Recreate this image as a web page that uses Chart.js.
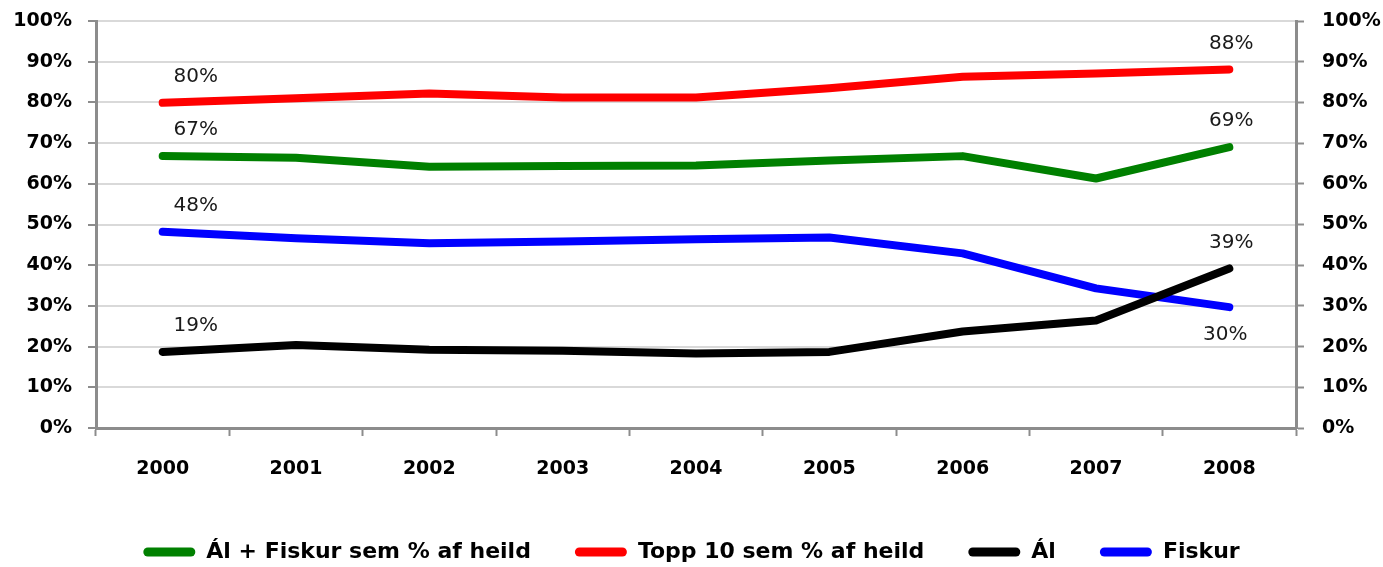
<!DOCTYPE html>
<html>
<head>
<meta charset="utf-8">
<script src="https://cdn.jsdelivr.net/npm/chart.js@4/dist/chart.umd.min.js"></script>
<style>
  html, body { margin: 0; padding: 0; background: #fff; }
  #wrap { width: 1383px; height: 567px; }
</style>
</head>
<body>
<div id="wrap"><canvas id="mycanvas" width="1383" height="567"></canvas></div>
<script>
// years on the x axis
var years = ['2000', '2001', '2002', '2003', '2004', '2005', '2006', '2007', '2008'];

// series, percent of total
var alFiskur = [66.8, 66.4, 64.2, 64.4, 64.5, 65.7, 66.8, 61.3, 69.0];
var topp10   = [79.9, 81.0, 82.2, 81.2, 81.2, 83.5, 86.3, 87.1, 88.1];
var al       = [18.7, 20.4, 19.2, 19.0, 18.3, 18.7, 23.7, 26.4, 39.2];
var fiskur   = [48.2, 46.6, 45.4, 45.8, 46.4, 46.8, 42.9, 34.3, 29.7];

var seriesNames = ['Ál + Fiskur sem % af heild', 'Topp 10 sem % af heild', 'Ál', 'Fiskur'];
var yTicks = [0, 10, 20, 30, 40, 50, 60, 70, 80, 90, 100];

var colors = ['#008000', '#ff0000', '#000000', '#0000ff'];
var axisGray = '#8c8c8c';
var gridGray = '#d9d9d9';

function makeSet(name, data, color) {
	return {
		label: name,
		data: data,
		borderColor: color,
		backgroundColor: color,
		borderWidth: 8,
		borderCapStyle: 'round',
		borderJoinStyle: 'round',
		pointRadius: 0,
		tension: 0,
		fill: false
	};
}

// draws the % labels on the first and last point of each line
var endLabels = {
	id: 'endLabels',
	afterDatasetsDraw: function(chart) {
		var ctx = chart.ctx;
		ctx.save();
		ctx.font = '20px "DejaVu Sans"';
		ctx.fillStyle = '#1a1a1a';
		ctx.textAlign = 'center';
		ctx.textBaseline = 'middle';
		chart.data.datasets.forEach(function(ds, i) {
			var meta = chart.getDatasetMeta(i);
			var last = ds.data.length - 1;
			[0, last].forEach(function(idx) {
				var pt = meta.data[idx];
				var txt = Math.round(ds.data[idx]) + '%';
				var dx = idx === 0 ? 33 : 2;
				var dy = -26;
				if (idx === last && i === 3) { dy = 28; dx = -4; }
				ctx.fillText(txt, pt.x + dx, pt.y + dy);
			});
		});
		ctx.restore();
	}
};

// legend needs wide gaps between items but not the tall box that comes with them
var legendHeight = {
	id: 'legendHeight',
	afterInit: function(chart) {
		var lg = chart.legend;
		var origFit = lg.fit;
		lg.fit = function() {
			origFit.call(this);
			this.height = 70;
		};
	}
};

var chartdata = {
	labels: years,
	datasets: [
		makeSet(seriesNames[0], alFiskur, colors[0]),
		makeSet(seriesNames[1], topp10, colors[1]),
		makeSet(seriesNames[2], al, colors[2]),
		makeSet(seriesNames[3], fiskur, colors[3])
	]
};

var tickFont = { family: '"DejaVu Sans"', size: 19, weight: 'bold' };

var ctx = document.getElementById('mycanvas');
var lineGraph = new Chart(ctx, {
	type: 'line',
	data: chartdata,
	plugins: [endLabels, legendHeight],
	options: {
		responsive: false,
		animation: false,
		layout: { padding: 0 },
		plugins: {
			tooltip: { enabled: false },
			legend: {
				position: 'bottom',
				labels: {
					font: { family: '"DejaVu Sans"', size: 22, weight: 'bold' },
					color: '#000',
					boxWidth: 52,
					boxHeight: 9,
					useBorderRadius: true,
					borderRadius: 4.5,
					padding: 44,
					generateLabels: function(chart) {
						var items = Chart.defaults.plugins.legend.labels.generateLabels(chart);
						items.forEach(function(it) { it.lineWidth = 0; });
						return items;
					}
				}
			}
		},
		scales: {
			x: {
				offset: true,
				grid: {
					offset: true,
					drawOnChartArea: false,
					drawTicks: true,
					tickLength: 8,
					tickColor: axisGray,
					tickWidth: 2
				},
				border: { color: axisGray, width: 3 },
				ticks: { font: tickFont, color: '#000', padding: 22 },
				afterFit: function(scale) { scale.height = 69; }
			},
			y: {
				position: 'left',
				min: 0,
				max: 100,
				afterBuildTicks: function(scale) {
					scale.ticks = yTicks.map(function(v) { return { value: v }; });
				},
				grid: {
					color: gridGray,
					lineWidth: 2,
					tickLength: 8,
					tickColor: axisGray,
					tickWidth: 2
				},
				border: { color: axisGray, width: 3 },
				ticks: {
					font: tickFont,
					color: '#000',
					padding: 16,
					callback: function(v) { return v + '%'; }
				},
				afterFit: function(scale) { scale.width = 96; scale.paddingTop = 21; }
			},
			y1: {
				position: 'right',
				min: 0,
				max: 100,
				afterBuildTicks: function(scale) {
					scale.ticks = yTicks.map(function(v) { return { value: v }; });
				},
				grid: {
					drawOnChartArea: false,
					tickLength: 8,
					tickColor: axisGray,
					tickWidth: 2
				},
				border: { color: axisGray, width: 3 },
				ticks: {
					font: tickFont,
					color: '#000',
					padding: 18,
					callback: function(v) { return v + '%'; }
				},
				afterFit: function(scale) { scale.width = 87; scale.paddingTop = 21; }
			}
		}
	}
});
</script>
</body>
</html>
